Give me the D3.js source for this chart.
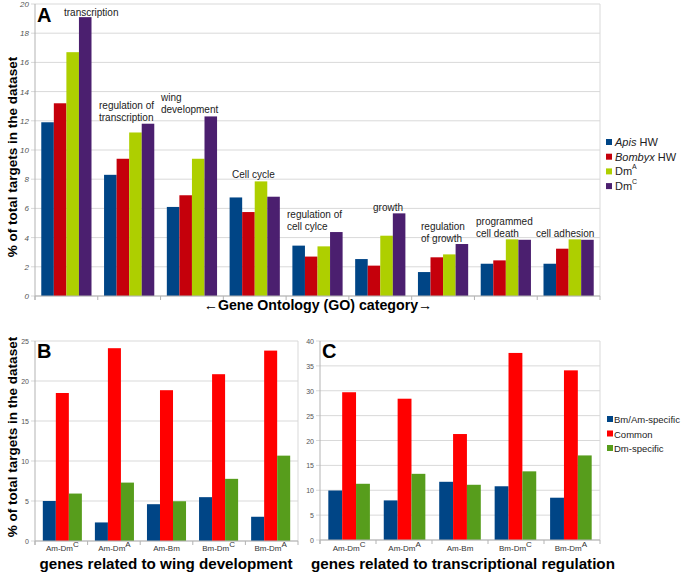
<!DOCTYPE html>
<html><head><meta charset="utf-8">
<script src="https://cdn.jsdelivr.net/npm/d3@7"></script>
<style>body{margin:0;background:#fff}svg{display:block;font-family:"Liberation Sans",Arial,sans-serif}</style>
</head><body><svg id="c" width="685" height="573"></svg>
<script>
// ---- Panel A data ----
const goCategories = ["transcription","regulation of transcription","wing development","Cell cycle","regulation of cell cylce","growth","regulation of growth","programmed cell death","cell adhesion"];
const goLabels = [["transcription"],["regulation of","transcription"],["wing","development"],["Cell cycle"],["regulation of","cell cylce"],["growth"],["regulation","of growth"],["programmed","cell death"],["cell adhesion"]];
const apisHW   = [11.9, 8.3, 6.1, 6.75, 3.45, 2.53, 1.64, 2.21, 2.21];
const bombyxHW = [13.2, 9.4, 6.9, 5.75, 2.7, 2.08, 2.65, 2.44, 3.24];
const dmA      = [16.7, 11.2, 9.4, 7.85, 3.4, 4.13, 2.85, 3.88, 3.88];
const dmC      = [19.1, 11.8, 12.3, 6.8, 4.38, 5.66, 3.56, 3.85, 3.85];
const aTicks = [0,2,4,6,8,10,12,14,16,18,20];

// ---- Panels B / C data ----
const pairCategories = [["Am-Dm","C"],["Am-Dm","A"],["Am-Bm",""],["Bm-Dm","C"],["Bm-Dm","A"]];
const wingBmAm   = [5.0, 2.32, 4.6, 5.48, 3.03];
const wingCommon = [18.5, 24.1, 18.85, 20.85, 23.8];
const wingDm     = [5.93, 7.3, 4.97, 7.77, 10.67];
const bTicks = [0,5,10,15,20,25];
const trBmAm   = [9.95, 7.96, 11.7, 10.8, 8.5];
const trCommon = [29.7, 28.4, 21.3, 37.6, 34.1];
const trDm     = [11.3, 13.3, 11.1, 13.8, 17.0];
const cTicks = [0,5,10,15,20,25,30,35,40];

const svg = d3.select("#c");
const gridCol = "#d9d9d9", axisCol = "#b3b3b3";

function panel(o){
  const g = svg.append("g");
  const x = d3.scaleBand().domain(d3.range(o.cats.length)).range([o.x0,o.x1]).paddingInner(o.pi).paddingOuter(o.po);
  const y = d3.scaleLinear().domain([0,o.max]).range([o.y1,o.y0]);
  const xs = d3.scaleBand().domain(d3.range(o.series.length)).range([0,x.bandwidth()]);
  g.selectAll(".gl").data(o.ticks).join("line")
    .attr("x1",o.x0-4).attr("x2",o.x1).attr("y1",d=>y(d)).attr("y2",d=>y(d))
    .attr("stroke",gridCol).attr("stroke-width",1);
  g.append("line").attr("x1",o.x1).attr("x2",o.x1).attr("y1",o.y0).attr("y2",o.y1).attr("stroke",gridCol);
  g.append("line").attr("x1",o.x0).attr("x2",o.x0).attr("y1",o.y0).attr("y2",o.y1+4).attr("stroke",axisCol);
  const bounds = d3.range(o.cats.length+1).map(i=>o.x0 + i*(o.x1-o.x0)/o.cats.length);
  g.selectAll(".xt").data(bounds).join("line")
    .attr("x1",d=>d).attr("x2",d=>d).attr("y1",o.y1).attr("y2",o.y1+4).attr("stroke",axisCol);
  g.selectAll(".yl").data(o.ticks).join("text")
    .attr("x",o.x0-6).attr("y",d=>y(d)+3).attr("text-anchor","end")
    .attr("font-size",o.tickSize).attr("fill","#555").attr("font-style",o.italic?"italic":"normal")
    .text(d=>d);
  o.series.forEach((s,si)=>{
    g.selectAll(null).data(s.values).join("rect")
      .attr("x",(d,i)=>x(i)+xs(si)).attr("width",xs.bandwidth())
      .attr("y",d=>y(d)).attr("height",d=>y(0)-y(d)).attr("fill",s.color);
  });
  g.append("line").attr("x1",o.x0).attr("x2",o.x1).attr("y1",o.y1).attr("y2",o.y1).attr("stroke",axisCol);
  return {x,y,g};
}

// Panel A
const A = panel({cats:goCategories,x0:35,x1:600,y0:4,y1:296,max:20,ticks:aTicks,pi:0.2,po:0.1,tickSize:8,italic:true,
  series:[{values:apisHW,color:"#004586"},{values:bombyxHW,color:"#c5000b"},{values:dmA,color:"#aecf00"},{values:dmC,color:"#4b1f6f"}]});
const annPos = [[64,16],[99,109],[161,101],[232,178],[287,218],[373,211],[421,230],[476,225],[536,237]];
goLabels.forEach((lines,i)=>{
  const t = svg.append("text").attr("x",annPos[i][0]).attr("y",annPos[i][1]).attr("font-size",10).attr("fill","#222");
  lines.forEach((l,j)=>t.append("tspan").attr("x",annPos[i][0]).attr("dy",j?12.3:0).text(l));
});
svg.append("text").attr("x",37).attr("y",22).attr("font-size",20).attr("font-weight","bold").text("A");
svg.append("text").attr("x",318).attr("y",310).attr("text-anchor","middle").attr("font-size",14.2).attr("font-weight","bold").text("\u2190Gene Ontology (GO) category\u2192");
svg.append("text").attr("transform","translate(17,157) rotate(-90)").attr("text-anchor","middle").attr("font-size",13.5).attr("font-weight","bold").text("% of total targets in the dataset");
// legend A
const legA = [{n:["Apis"," HW"],c:"#004586"},{n:["Bombyx"," HW"],c:"#c5000b"},{n:["Dm","A"],c:"#aecf00",sup:true},{n:["Dm","C"],c:"#4b1f6f",sup:true}];
legA.forEach((d,i)=>{
  const yy = 146 + i*14.7;
  svg.append("rect").attr("x",606).attr("y",yy-7).attr("width",6).attr("height",6).attr("fill",d.c);
  const t = svg.append("text").attr("x",615).attr("y",yy).attr("font-size",11).attr("fill","#222");
  if(d.sup){ t.append("tspan").text(d.n[0]); t.append("tspan").attr("dy",-6).attr("font-size",7).text(d.n[1]); }
  else { t.append("tspan").attr("font-style","italic").text(d.n[0]); t.append("tspan").text(d.n[1]); }
});

// Panel B
const B = panel({cats:pairCategories,x0:35,x1:298,y0:341,y1:541,max:25,ticks:bTicks,pi:0.25,po:0.15,tickSize:7,italic:false,
  series:[{values:wingBmAm,color:"#004586"},{values:wingCommon,color:"#ff0000"},{values:wingDm,color:"#579d1c"}]});
// Panel C
const C = panel({cats:pairCategories,x0:320,x1:600,y0:341,y1:540,max:40,ticks:cTicks,pi:0.25,po:0.15,tickSize:7,italic:false,
  series:[{values:trBmAm,color:"#004586"},{values:trCommon,color:"#ff0000"},{values:trDm,color:"#579d1c"}]});
[B,C].forEach(P=>{
  pairCategories.forEach((c,i)=>{
    const t = svg.append("text").attr("x",P.x(i)+P.x.bandwidth()/2).attr("y",551).attr("text-anchor","middle").attr("font-size",8).attr("fill","#333");
    t.append("tspan").text(c[0]);
    if(c[1]) t.append("tspan").attr("dy",-4).attr("font-size",8).text(c[1]);
  });
});
svg.append("text").attr("x",37).attr("y",358).attr("font-size",20).attr("font-weight","bold").text("B");
svg.append("text").attr("x",322).attr("y",358).attr("font-size",20).attr("font-weight","bold").text("C");
svg.append("text").attr("x",166).attr("y",569).attr("text-anchor","middle").attr("font-size",15.2).attr("font-weight","bold").text("genes related to wing development");
svg.append("text").attr("x",463).attr("y",569).attr("text-anchor","middle").attr("font-size",15.2).attr("font-weight","bold").text("genes related to transcriptional regulation");
svg.append("text").attr("transform","translate(17,437) rotate(-90)").attr("text-anchor","middle").attr("font-size",13.5).attr("font-weight","bold").text("% of total targets in the dataset");
// legend C
const legC = [{n:"Bm/Am-specific",c:"#004586"},{n:"Common",c:"#ff0000"},{n:"Dm-specific",c:"#579d1c"}];
legC.forEach((d,i)=>{
  const yy = 423 + i*14.5;
  svg.append("rect").attr("x",607).attr("y",yy-7).attr("width",6).attr("height",6).attr("fill",d.c);
  svg.append("text").attr("x",614).attr("y",yy).attr("font-size",9.5).attr("fill","#222").text(d.n);
});
</script></body></html>
